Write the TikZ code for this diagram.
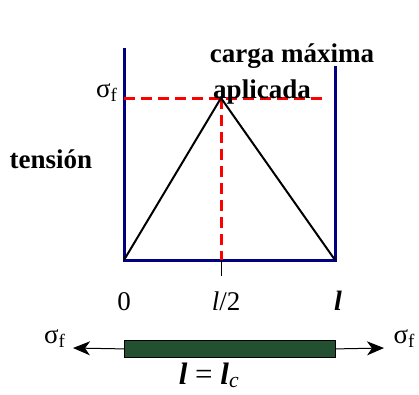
\documentclass[tikz,border=0pt]{standalone}
\usepackage{fontspec}
\setmainfont{Liberation Serif}
\usetikzlibrary{arrows.meta}
\definecolor{navy}{RGB}{0,0,128}
\definecolor{fibra}{RGB}{34,80,48}

\begin{document}
\begin{tikzpicture}[x=1pt,y=-1pt,font=\fontsize{27}{29}\selectfont,
  eje/.style={navy,line width=3pt},
  guia/.style={red,line width=3pt,dash pattern=on 11pt off 6pt},
  fuerza/.style={line width=1pt,-{Stealth[length=17pt,width=14pt,inset=5pt]}}]

\useasboundingbox (0,0) rectangle (419,394);

\coordinate (topL) at (124,48);
\coordinate (topR) at (335,66);
\coordinate (O) at (124,260);
\coordinate (L) at (335,260);
\coordinate (P) at (221,98);
\coordinate (sigR) at (328,98);
\coordinate (mid) at (221,260);
\coordinate (tick) at (221,276);

\draw[eje] (topL) -- (O) -- (L) -- (topR);

\draw[guia] (O |- P) -- (sigR);
\draw[guia] (P) -- (mid);
\draw[line width=1pt] (mid) -- (tick);

\draw[line width=2pt,line join=miter] (O) -- (P) -- (L);

\node[anchor=base east] (sigma) at (121,97) {σ\textsubscript{f}};
\node[anchor=base,font=\fontsize{27}{29}\bfseries] (tension) at (51,168) {tensión};
\node[anchor=base,font=\fontsize{27}{29}\bfseries] (carga) at (292,62) {carga máxima};
\node[anchor=base,font=\fontsize{27}{29}\bfseries] (aplicada) at (262,98) {aplicada};

\node[anchor=base] (cero) at (124,310) {0};
\node[anchor=base] (mitad) at (226,310) {\textit{l}/2};
\node[anchor=base,font=\fontsize{28}{30}\bfseries\itshape] (largo) at (338,310) {l};

% fibra
\node[draw=black,line width=0.8pt,fill=fibra,minimum width=211pt,minimum height=17pt,
  inner sep=0pt,anchor=north west] (fibra) at (124,340) {};
\coordinate (tipL) at (73,348);
\coordinate (tipR) at (384,348);
\draw[fuerza] (fibra.west) -- (tipL);
\draw[fuerza] (fibra.east) -- (tipR);
\node[anchor=base east] (sigL) at (69,343) {σ\textsubscript{f}};
\node[anchor=base west] (sigRt) at (390,343) {σ\textsubscript{f}};
\node[anchor=base,font=\fontsize{31}{33}\selectfont] (lc) at (209,384)
  {\textbf{\textit{l}} = \textbf{\textit{l}}\textsubscript{\textit{c}}};

\end{tikzpicture}
\end{document}
